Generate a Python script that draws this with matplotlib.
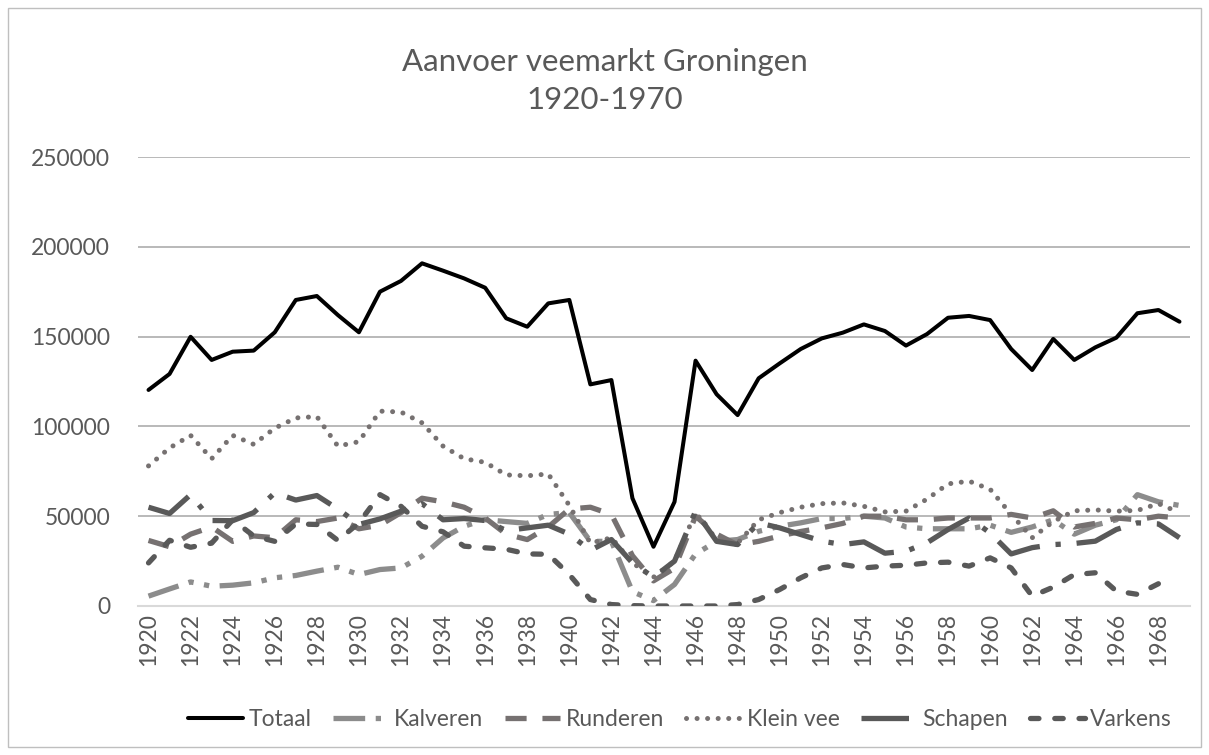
import matplotlib
matplotlib.use("Agg")
import matplotlib.pyplot as plt
import numpy as np
from matplotlib.patches import Rectangle

years = list(range(1920, 1970))

totaal = [120300, 129200, 149900, 137000, 141600, 142200, 152400, 170400, 172600, 162000,
          152400, 175000, 181000, 190800, 186700, 182400, 177200, 160200, 155500, 168500,
          170400, 123400, 125800, 60000, 33000, 58000, 136600, 117900, 106300, 126800,
          135100, 143100, 149000, 152200, 156800, 153100, 145000, 151400, 160500, 161500,
          159200, 143100, 131400, 148700, 137000, 144000, 149400, 163000, 164800, 158300]

kalveren = [5500, 9500, 13400, 11000, 11600, 12900, 15700, 17000, 19400, 21600,
            17500, 20300, 21200, 27700, 37900, 44400, 48100, 47000, 46000, 51000,
            52000, 36000, 36000, 8000, 3000, 12000, 29000, 36000, 37000, 41600,
            44400, 46300, 48700, 48700, 50000, 49000, 44000, 43000, 43000, 43000,
            45000, 41000, 44000, 48000, 40000, 45000, 48000, 62000, 58000, 56000]

runderen = [36500, 33000, 40000, 44000, 36000, 39000, 38000, 48000, 47000, 49000,
            43000, 45000, 52000, 60000, 58000, 55000, 49000, 40000, 37000, 44000,
            54000, 55000, 51000, 28000, 14000, 21000, 50000, 40000, 34000, 36000,
            39000, 41500, 43500, 46000, 50000, 50000, 48000, 48000, 49000, 49000,
            49000, 51000, 49000, 53000, 44000, 46000, 49000, 48000, 50000, 49000]

klein_vee = [78000, 88000, 95000, 82000, 95000, 90000, 99000, 104700, 105500, 89000,
             91500, 108500, 108000, 102000, 89000, 82000, 80000, 73000, 72500, 73500,
             56000, 35000, 38000, 24000, 16000, 25000, 52000, 37000, 35000, 48000,
             52000, 55000, 57000, 57400, 55500, 52400, 52800, 59500, 68000, 69500,
             65000, 51000, 38000, 47000, 53000, 53500, 52800, 53200, 57000, 52000]

schapen = [55000, 51500, 62000, 47600, 47500, 52000, 63000, 59000, 61500, 54000,
           45400, 48500, 52800, 57000, 48000, 48700, 47600, 42000, 43500, 45000,
           40000, 31000, 37000, 24000, 16000, 25000, 52800, 36000, 34200, 46300,
           43500, 39800, 36100, 34200, 35700, 29400, 30500, 35200, 42600, 49000,
           40700, 29000, 32500, 34200, 34800, 36100, 42600, 46300, 45700, 38000]

varkens = [24000, 36600, 32700, 35000, 48000, 39000, 36000, 45700, 45400, 36500,
           46300, 62000, 55500, 44400, 41300, 33300, 32400, 31600, 29000, 28800,
           17500, 3600, 800, 200, 0, 0, 0, 0, 800, 3600,
           9200, 15700, 21200, 23100, 21200, 22200, 22700, 24000, 24400, 22200,
           26800, 21200, 5500, 10500, 17500, 18500, 8300, 6500, 12400, np.nan]

y_ticks = [0, 50000, 100000, 150000, 200000, 250000]

FONT = "Lato"
TXT = "#595959"
W, H = 1209, 755

fig = plt.figure(figsize=(W / 100, H / 100), dpi=100)
ax = fig.add_axes([138 / W, 1 - 606 / H, (1190 - 138) / W, (606 - 157) / H])

x = np.arange(len(years))
common = dict(solid_joinstyle="round", dash_joinstyle="round")
ax.plot(x, totaal, color="#000000", lw=2.9, label="Totaal", solid_capstyle="round", **common)
ax.plot(x, kalveren, color="#8c8c8c", lw=3.8, linestyle=(0, (6, 2, 1, 2, 1, 2)),
        dash_capstyle="butt", label="Kalveren", **common)
ax.plot(x, runderen, color="#767171", lw=3.8, linestyle=(0, (4, 3)),
        dash_capstyle="butt", label="Runderen", **common)
ax.plot(x, klein_vee, color="#767171", lw=3.6, linestyle=(0, (0.01, 2.1)),
        dash_capstyle="round", label="Klein vee", **common)
ax.plot(x, schapen, color="#595959", lw=3.8, linestyle=(0, (9, 3, 1, 3)),
        dash_capstyle="butt", label="Schapen", **common)
ax.plot(x, varkens, color="#595959", lw=3.8, linestyle=(0, (1.6, 3)),
        dash_capstyle="round", label="Varkens", **common)

ax.set_xlim(-0.5, len(years) - 0.5)
ax.set_ylim(0, 250000)
for t in y_ticks[1:]:
    ax.axhline(t, color="#b3b3b3", lw=1.3, zorder=0)
for s in ["top", "right", "left"]:
    ax.spines[s].set_visible(False)
ax.spines["bottom"].set_color("#d9d9d9")
ax.spines["bottom"].set_linewidth(1.5)
ax.spines["bottom"].set_zorder(0)

ax.set_yticks(y_ticks)
ax.set_yticklabels([str(v) for v in y_ticks], fontsize=16.5, family=FONT, color=TXT)
ax.set_xticks(x[::2])
ax.set_xticklabels([str(y) for y in years[::2]], fontsize=16.5, family=FONT, color=TXT,
                   rotation=90)
ax.tick_params(axis="y", length=0, pad=20)
ax.tick_params(axis="x", length=0, pad=5)

fig.text(0.5, 1 - 62 / H, "Aanvoer veemarkt Groningen", ha="center", va="center",
         fontsize=22.5, family=FONT, color=TXT)
fig.text(0.5, 1 - 100 / H, "1920-1970", ha="center", va="center",
         fontsize=22.5, family=FONT, color=TXT)

leg = fig.legend(loc="center", bbox_to_anchor=(680 / W, 1 - 720 / H), ncol=6,
                 frameon=False, handlelength=2.4, handletextpad=0.25, columnspacing=0.95,
                 prop={"family": FONT, "size": 16.5})
for t in leg.get_texts():
    t.set_color(TXT)

fig.patches.append(Rectangle((8 / W, 8 / H), 1193 / W, 739 / H, transform=fig.transFigure,
                             fill=False, edgecolor="#bfbfbf", lw=1))

fig.savefig("out.png", dpi=100)
